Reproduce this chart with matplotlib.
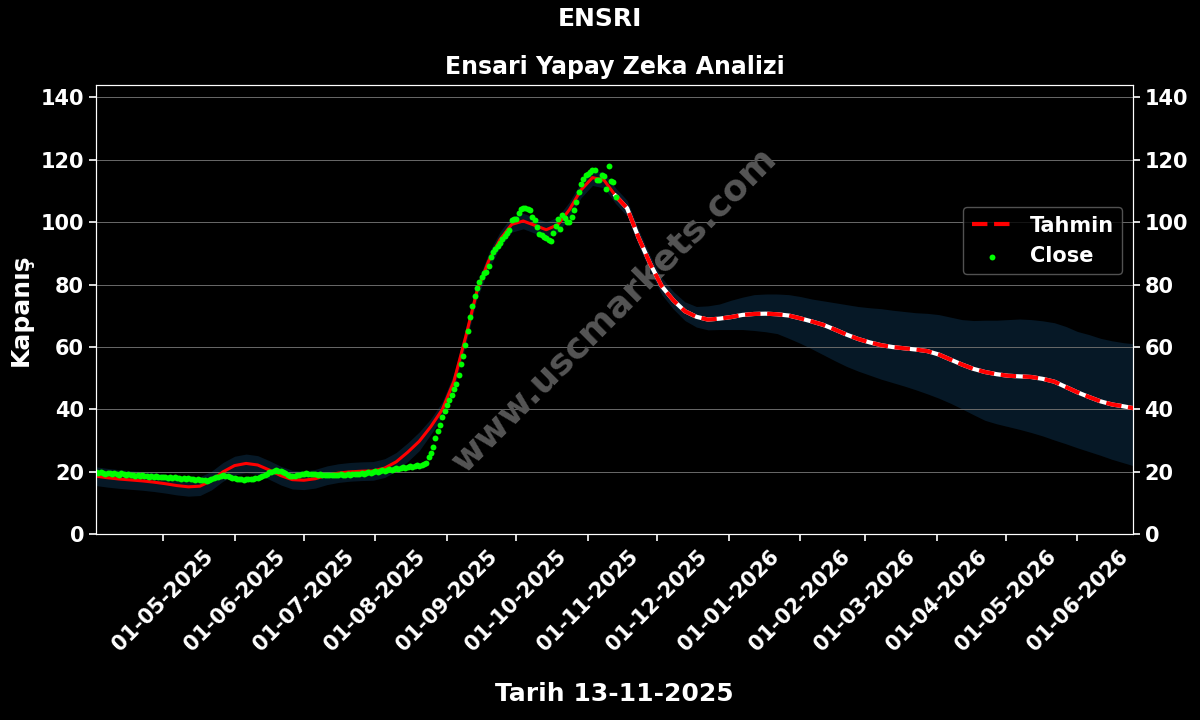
import pandas as pd
import matplotlib
matplotlib.use("Agg")
import matplotlib.pyplot as plt
import matplotlib.dates as mdates

symbol = "ENSRI"
subtitle = "Ensari Yapay Zeka Analizi"
report_date = "13-11-2025"
start_date = "2025-04-02"
end_date = "2026-06-25"

# daily closes from 2025-04-02 to 2025-11-13
close = [
    19.8, 19.5, 19.9, 19.6, 19.3, 19.7, 19.5, 19.2, 19.6, 19.4, 19.1, 19.5, 19.3, 19.0,
    19.2, 18.9, 19.1, 18.8, 19.0, 18.7, 18.9, 18.6, 18.8, 18.5, 18.7, 18.4, 18.6, 18.3,
    18.5, 18.2, 18.4, 18.1, 18.3, 18.0, 18.2, 17.9, 18.1, 17.8, 18.0, 17.7, 17.9, 17.6,
    17.8, 17.5, 17.7, 17.4, 17.3, 17.5, 17.2, 17.4, 17.6, 17.9, 18.2, 18.5, 18.7, 18.9,
    18.8, 18.6, 18.4, 18.1, 17.9, 17.7, 17.6, 17.8, 17.5, 17.7, 17.6, 17.8, 17.7, 17.9,
    18.0, 18.3, 18.6, 19.0, 19.4, 19.8, 20.1, 20.3, 20.5, 20.4, 20.2, 19.9, 19.5, 19.1,
    18.8, 18.6, 18.7, 18.9, 19.1, 19.3, 19.4, 19.5, 19.3, 19.4, 19.2, 19.3, 19.1, 19.2,
    19.0, 19.1, 18.9, 19.0, 18.9, 19.1, 18.9, 19.0, 19.2, 19.0, 19.1, 19.3, 19.1, 19.2,
    19.4, 19.2, 19.4, 19.6, 19.4, 19.7, 19.9, 19.7, 20.0, 20.2, 20.0, 20.3, 20.5, 20.3,
    20.6, 20.8, 20.6, 20.9, 21.1, 21.0, 21.3, 21.5, 21.3, 21.6, 21.8, 21.7, 22.0, 22.2,
    22.0, 22.3, 22.5, 22.8, 24.8, 26.0, 28.0, 31.0, 33.0, 35.0, 37.5, 39.5, 41.3, 43.0,
    44.5, 46.5, 48.3, 51.0, 54.5, 57.0, 60.5, 65.0, 69.5, 73.0, 76.5, 79.0, 80.8, 82.5,
    83.8, 84.2, 86.0, 89.0, 90.5, 91.5, 92.3, 93.5, 94.5, 95.5, 96.5, 97.5, 100.6, 101.0,
    100.9, 103.1, 104.1, 104.5, 104.6, 104.3, 103.8, 101.7, 100.6, 98.5, 96.3, 95.8, 95.3, 95.0,
    94.2, 93.9, 96.7, 98.8, 100.9, 97.7, 102.2, 101.4, 100.1, 100.1, 101.7, 103.8, 106.5, 109.7,
    112.4, 113.7, 115.0, 115.6, 116.1, 116.6, 116.6, 113.4, 113.4, 115.0, 114.8, 110.8, 117.9, 113.2,
    112.9, 108.0,
]

# model output every 5 days from 2025-04-02
tahmin = [
    18.6, 18.1, 17.7, 17.4, 17.1, 16.7, 16.2, 15.6, 15.2, 15.4,
    17.2, 20.0, 22.0, 22.7, 22.2, 20.6, 18.8, 17.5, 17.3, 17.8,
    18.9, 19.6, 20.0, 20.2, 20.3, 21.2, 23.2, 26.3, 29.8, 34.5,
    40.0, 49.0, 63.0, 78.0, 87.5, 94.5, 99.3, 100.4, 99.0, 97.6,
    99.2, 104.0, 110.3, 114.3, 113.5, 108.5, 104.5, 95.0, 86.7, 79.5,
    75.0, 71.5, 69.7, 68.8, 69.1, 69.6, 70.3, 70.6, 70.7, 70.5,
    70.1, 69.2, 68.2, 67.1, 65.6, 64.0, 62.6, 61.5, 60.6, 60.0,
    59.6, 59.2, 58.7, 57.6, 56.0, 54.4, 53.0, 52.0, 51.3, 50.8,
    50.6, 50.4, 49.8, 48.9, 47.2, 45.5, 44.0, 42.6, 41.6, 41.0,
    40.3,
]
upper = [
    21.6, 21.1, 20.7, 20.4, 20.1, 19.7, 19.2, 18.6, 18.2, 18.4,
    20.2, 23.0, 25.0, 25.7, 25.2, 23.6, 21.8, 20.5, 20.3, 20.8,
    21.9, 22.6, 23.0, 23.2, 23.3, 24.2, 26.2, 29.3, 32.8, 37.0,
    42.5, 51.5, 65.5, 80.5, 90.0, 97.0, 101.8, 102.9, 101.5, 100.1,
    101.7, 106.5, 112.8, 116.8, 116.0, 111.0, 107.0, 97.5, 89.2, 82.2,
    77.8, 74.5, 73.0, 73.2, 73.8, 75.0, 76.0, 76.8, 77.0, 77.0,
    76.8, 76.2, 75.4, 74.8, 74.2, 73.6, 73.0, 72.6, 72.3, 71.8,
    71.4, 71.0, 70.8, 70.4, 69.6, 68.8, 68.5, 68.6, 68.6, 68.8,
    69.0, 68.8, 68.4, 67.8, 66.6, 65.0, 64.0, 62.8, 62.0, 61.4,
    61.0,
]
lower = [
    15.6, 15.1, 14.7, 14.4, 14.1, 13.7, 13.2, 12.6, 12.2, 12.4,
    14.2, 17.0, 19.0, 19.7, 19.2, 17.6, 15.8, 14.5, 14.3, 14.8,
    15.9, 16.6, 17.0, 17.2, 17.3, 18.2, 20.2, 23.3, 26.8, 32.0,
    37.5, 46.5, 60.5, 75.5, 85.0, 92.0, 96.8, 97.9, 96.5, 95.1,
    96.7, 101.5, 107.8, 111.8, 111.0, 106.0, 102.0, 92.5, 84.2, 76.8,
    72.2, 68.5, 66.4, 65.5, 65.6, 65.6, 65.6, 65.3, 64.9, 64.3,
    62.8, 61.2, 59.4, 57.5, 55.6, 53.8, 52.3, 51.0, 49.7, 48.6,
    47.5, 46.3, 45.0, 43.6, 42.0, 40.2, 38.3, 36.5, 35.4, 34.5,
    33.6, 32.6, 31.5, 30.2, 29.0, 27.7, 26.5, 25.3, 24.0, 22.9,
    21.8,
]

close_dates = pd.date_range(start_date, periods=len(close), freq="D")
pred_dates = pd.date_range(start_date, periods=len(tahmin), freq="5D")
split = int(pred_dates.searchsorted(pd.Timestamp("2025-11-13")))

fig = plt.figure(figsize=(12, 7.2), dpi=100, facecolor="black")
ax = fig.add_axes([0.08, 0.258, 0.864, 0.624])
ax.set_facecolor("black")

ax.fill_between(pred_dates, lower, upper, color="#061826", lw=0, zorder=1)
ax.plot(pred_dates[:split + 1], tahmin[:split + 1], color="red", lw=2.2, zorder=3)
ax.plot(pred_dates[split:], tahmin[split:], color="white", lw=3, zorder=3)
ax.plot(pred_dates[split:], tahmin[split:], color="red", lw=3, ls="--",
        label="Tahmin", zorder=4)
ax.scatter(close_dates, close, s=18, color="lime", lw=0, label="Close", zorder=5)

ax.text(0.5, 0.5, "www.uscmarkets.com", transform=ax.transAxes, rotation=45,
        ha="center", va="center", fontsize=26, fontweight="bold",
        color="#555555", zorder=2)

ax.set_xlim(pd.Timestamp(start_date), pd.Timestamp(end_date))
ax.set_ylim(0, 144)
ax.xaxis.set_major_locator(mdates.MonthLocator())
ax.xaxis.set_major_formatter(mdates.DateFormatter("%d-%m-%Y"))
ax.set_yticks(range(0, 141, 20))
ax.grid(axis="y", color="#6a6a6a", lw=0.7)

for lab in ax.get_xticklabels():
    lab.set_rotation(45)
    lab.set_ha("center")
ax.tick_params(colors="white", labelsize=15, width=1.2, length=5)
for lab in ax.get_xticklabels() + ax.get_yticklabels():
    lab.set_fontweight("bold")
for sp in ax.spines.values():
    sp.set_color("white")

ax2 = ax.twinx()
ax2.set_ylim(ax.get_ylim())
ax2.set_yticks(range(0, 141, 20))
ax2.tick_params(colors="white", labelsize=15, width=1.2, length=5)
for lab in ax2.get_yticklabels():
    lab.set_fontweight("bold")
for sp in ax2.spines.values():
    sp.set_color("white")

ax.set_title(subtitle, fontsize=17, fontweight="bold", color="white", pad=8)
fig.suptitle(symbol, fontsize=18, fontweight="bold", color="white", y=0.99)
ax.set_ylabel("Kapanış", fontsize=18, fontweight="bold", color="white", labelpad=6)
ax.set_xlabel("Tarih " + report_date, fontsize=18, fontweight="bold",
              color="white", labelpad=20)

leg = ax.legend(loc="center right", bbox_to_anchor=(1.0, 0.653),
                facecolor="black", edgecolor="#666666", labelcolor="white",
                prop={"weight": "bold", "size": 15})

fig.savefig("out.png", dpi=100, facecolor="black")
